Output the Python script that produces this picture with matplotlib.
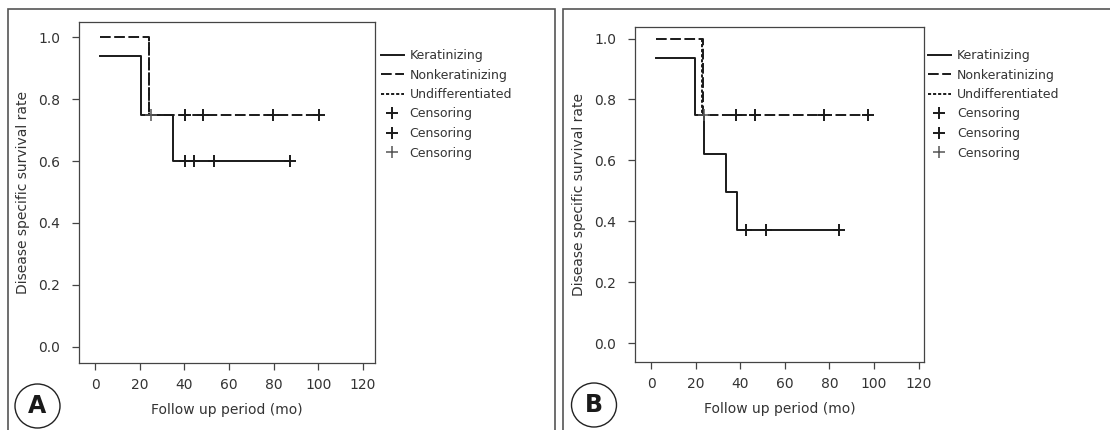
import numpy as np
import matplotlib
matplotlib.use("Agg")
from matplotlib import pyplot as plt
from matplotlib.patches import Rectangle, Ellipse

# panel A
a_ker_t = [2, 20.5, 34.8, 87.2]
a_ker_s = [0.94, 0.75, 0.60, 0.60]
a_ker_cens = [40.2, 44.3, 53.1, 87.2]
a_non_t = [2, 24.0, 100.3]
a_non_s = [1.0, 0.75, 0.75]
a_non_cens = [40.2, 48.5, 79.9, 100.3]
a_und_t = [24.3, 24.3, 25.1]
a_und_s = [1.0, 0.75, 0.75]
a_und_cens = [25.1]

# panel B
b_ker_t = [2, 19.5, 23.6, 33.6, 38.4, 84.1]
b_ker_s = [0.935, 0.75, 0.62, 0.495, 0.37, 0.37]
b_ker_cens = [42.6, 51.6, 84.1]
b_non_t = [2, 23.2, 97.1]
b_non_s = [1.0, 0.75, 0.75]
b_non_cens = [38.1, 46.6, 77.7, 97.1]
b_und_t = [23.0, 23.0, 23.8]
b_und_s = [1.0, 0.75, 0.75]
b_und_cens = [23.8]

xticks = [0, 20, 40, 60, 80, 100, 120]
yticks = [0.0, 0.2, 0.4, 0.6, 0.8, 1.0]

TXT = "#333333"
LN = "#1a1a1a"

plt.rcParams['font.family'] = ['DejaVu Sans']


def km_panel(ax, ker, non, und, ylim, xlim):
    ker_t, ker_s, ker_c = ker
    non_t, non_s, non_c = non
    und_t, und_s, und_c = und
    ax.step(ker_t, ker_s, where='post', color=LN, lw=1.4, label='Keratinizing')
    ax.step(non_t, non_s, where='post', color=LN, lw=1.4,
            linestyle=(0, (5.5, 1.8)), label='Nonkeratinizing')
    ax.step(und_t, und_s, where='post', color=LN, lw=1.4,
            linestyle=(0, (1.6, 1.0)), label='Undifferentiated')
    ax.plot(ker_c, [ker_s[-1]] * len(ker_c), '+', color=LN, ms=8, mew=1.4,
            label='Censoring')
    ax.plot(non_c, [non_s[-1]] * len(non_c), '+', color=LN, ms=8, mew=1.4,
            label='Censoring')
    ax.plot(und_c, [und_s[-1]] * len(und_c), '+', color='#555555', ms=8, mew=1.1,
            label='Censoring')
    ax.set_xlim(*xlim)
    ax.set_ylim(*ylim)
    ax.set_xticks(xticks)
    ax.set_yticks(yticks)
    ax.set_yticklabels(['%.1f' % v for v in yticks])
    ax.tick_params(direction='out', length=5, width=0.9, colors='#444444',
                   labelcolor=TXT, labelsize=10)
    ax.tick_params(axis='y', pad=8.5)
    ax.tick_params(axis='x', pad=5.5)
    for sp in ax.spines.values():
        sp.set_color('#444444')
        sp.set_linewidth(0.9)
    ax.set_xlabel('Follow up period (mo)', fontsize=10, color=TXT, labelpad=8)
    ax.set_ylabel('Disease specific survival rate', fontsize=10, color=TXT, labelpad=6)


fig = plt.figure(figsize=(11.1, 4.3), dpi=100)
W, H = 1110.0, 430.0

axA = fig.add_axes([79 / W, 1 - 363 / H, 296 / W, 341 / H])
km_panel(axA, (a_ker_t, a_ker_s, a_ker_cens), (a_non_t, a_non_s, a_non_cens),
         (a_und_t, a_und_s, a_und_cens), (-0.053, 1.05), (-7.2, 125.4))

axB = fig.add_axes([635 / W, 1 - 362 / H, 289 / W, 335 / H])
km_panel(axB, (b_ker_t, b_ker_s, b_ker_cens), (b_non_t, b_non_s, b_non_cens),
         (b_und_t, b_und_s, b_und_cens), (-0.062, 1.038), (-7.2, 122.4))

for ax, lx in [(axA, 381), (axB, 928)]:
    ax.legend(loc='upper left', bbox_to_anchor=(lx / W, 1 - 49 / H),
              bbox_transform=fig.transFigure, frameon=False, fontsize=9,
              labelcolor=TXT, handlelength=1.8, handletextpad=0.5,
              labelspacing=0.52, borderpad=0, borderaxespad=0, numpoints=1)

# panel frames
fig.add_artist(Rectangle((8 / W, -0.1), 547 / W, 1.1 - 9 / H, transform=fig.transFigure,
                         fill=False, ec='#555555', lw=1.2))
fig.add_artist(Rectangle((563 / W, -0.1), 560 / W, 1.1 - 9 / H, transform=fig.transFigure,
                         fill=False, ec='#555555', lw=1.2))

# panel letters
for cx, cy, letter in [(37.5, 406, 'A'), (594, 405, 'B')]:
    fig.add_artist(Ellipse((cx / W, 1 - cy / H), 45 / W, 44 / H, transform=fig.transFigure,
                           fill=True, fc='white', ec='#222222', lw=1.0))
    fig.text(cx / W, 1 - cy / H, letter, ha='center', va='center',
             fontsize=17, fontweight='bold', color='#1a1a1a')

fig.savefig('out.png', dpi=100)
